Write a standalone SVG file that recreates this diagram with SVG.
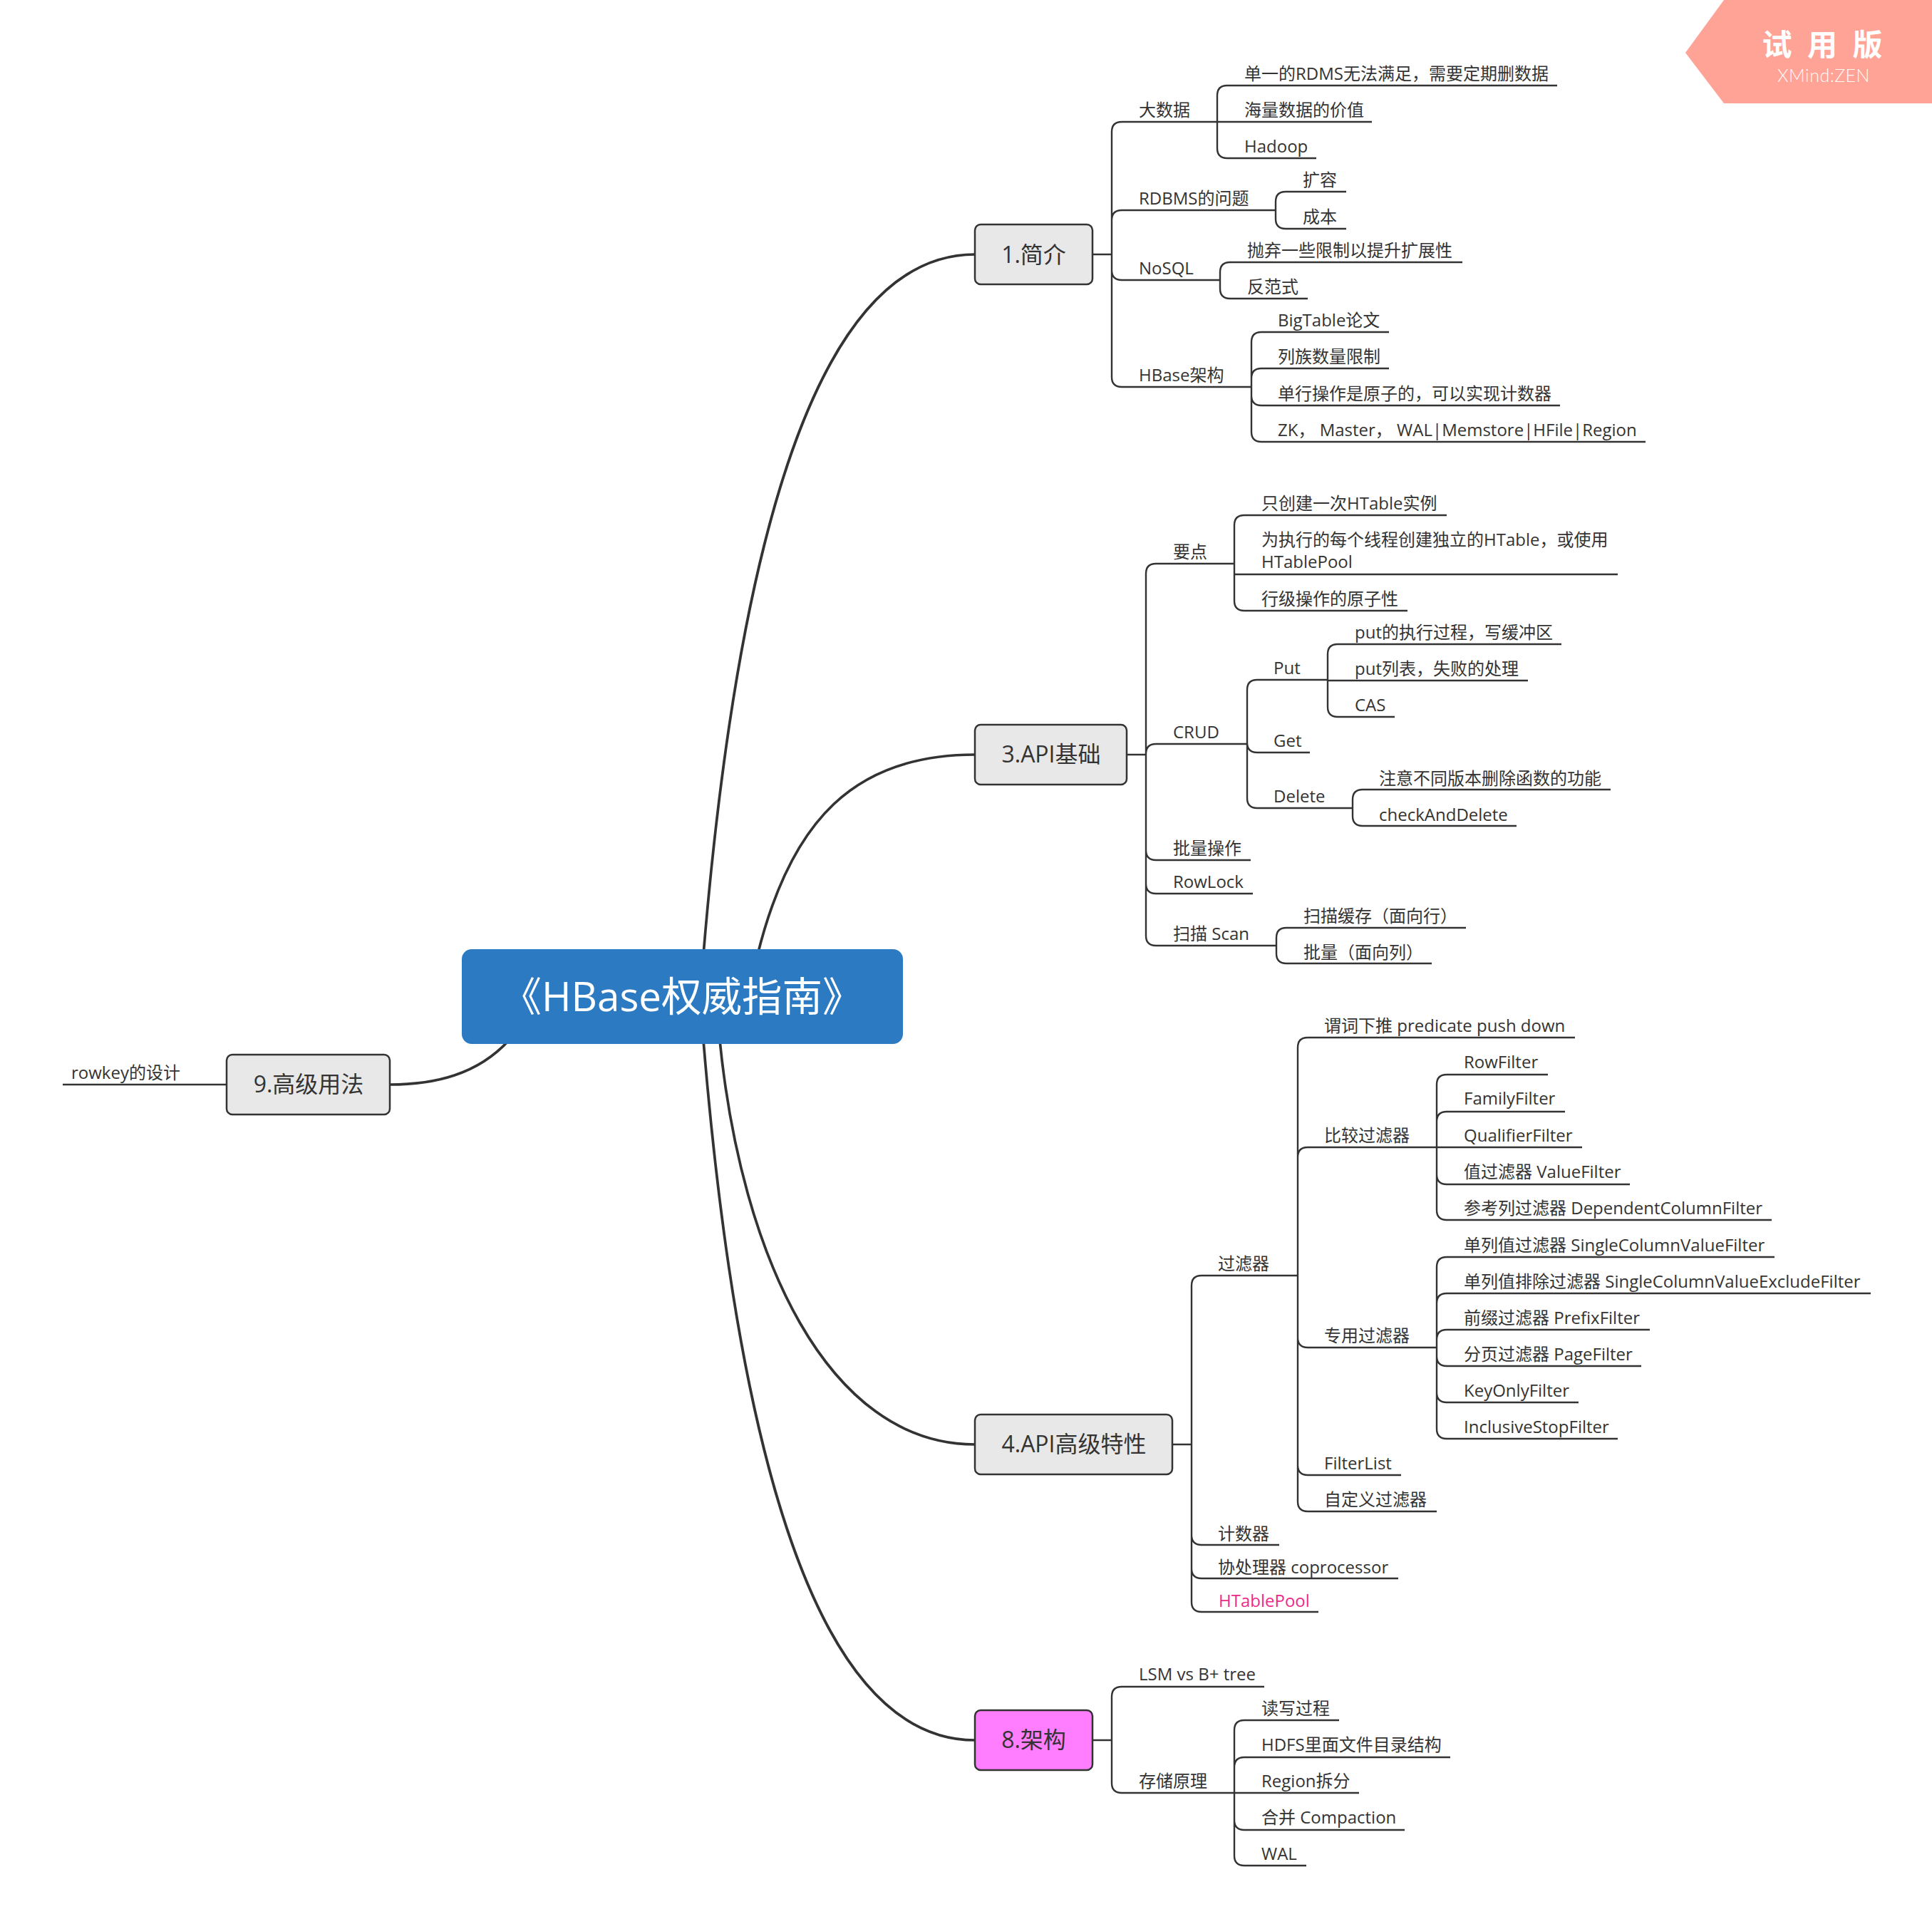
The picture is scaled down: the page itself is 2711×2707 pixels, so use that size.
<svg xmlns="http://www.w3.org/2000/svg" width="2711" height="2707" viewBox="0 0 2711 2707">
<style>
text{font-family:"Open Sans","Noto Sans CJK SC",sans-serif;fill:#333}
.t{font-size:24px}
.b{font-size:32px;text-anchor:middle}
.box{fill:#E8E8E8;stroke:#333;stroke-width:2.5}
.c{fill:none;stroke:#333;stroke-width:2.4}
.m{fill:none;stroke:#333;stroke-width:3.7}
</style>
<rect width="2711" height="2707" fill="#fff"/>
<g id="connectors">
<path class="m" d="M987 1340C1030 820 1130 357 1368 357"/>
<path class="m" d="M1063 1340C1110 1150 1200 1059 1368 1059"/>
<path class="m" d="M1010 1460C1040 1760 1160 2027 1368 2027"/>
<path class="m" d="M987 1460C1030 1980 1130 2442 1368 2442"/>
<path class="m" d="M714 1460C670 1508 610 1522 547 1522"/>
<path class="c" d="M318 1522H88"/>
<path class="c" d="M1534 357H1560M1708 171H1574Q1560 171 1560 185V529Q1560 543 1574 543H1756M1560 309Q1560 295 1574 295H1790M1560 379Q1560 393 1574 393H1712"/>
<path class="c" d="M2185 120H1722Q1708 120 1708 134V208Q1708 222 1722 222H1847M1708 171H1925"/>
<path class="c" d="M1889 269H1804Q1790 269 1790 283V307Q1790 321 1804 321H1889"/>
<path class="c" d="M2052 368H1726Q1712 368 1712 382V405Q1712 419 1726 419H1835"/>
<path class="c" d="M1949 466H1770Q1756 466 1756 480V606Q1756 620 1770 620H2309M1756 531Q1756 517 1770 517H1949M1756 555Q1756 569 1770 569H2189"/>
<path class="c" d="M1582 1059H1608M1732 791H1622Q1608 791 1608 805V1313Q1608 1327 1622 1327H1791M1608 1058Q1608 1044 1622 1044H1750M1608 1193Q1608 1207 1622 1207H1755M1608 1240Q1608 1254 1622 1254H1758"/>
<path class="c" d="M2030 723H1746Q1732 723 1732 737V843Q1732 857 1746 857H1975M1732 806H2270"/>
<path class="c" d="M1863 954H1764Q1750 954 1750 968V1120Q1750 1134 1764 1134H1898M1750 1042Q1750 1056 1764 1056H1838"/>
<path class="c" d="M2191 904H1877Q1863 904 1863 918V992Q1863 1006 1877 1006H1957M1863 955H2144"/>
<path class="c" d="M2260 1108H1912Q1898 1108 1898 1122V1145Q1898 1159 1912 1159H2128"/>
<path class="c" d="M2057 1302H1805Q1791 1302 1791 1316V1338Q1791 1352 1805 1352H2009"/>
<path class="c" d="M1646 2027H1672M1821 1790H1686Q1672 1790 1672 1804V2248Q1672 2262 1686 2262H1850M1672 2154Q1672 2168 1686 2168H1795M1672 2201Q1672 2215 1686 2215H1962"/>
<path class="c" d="M2210 1456H1835Q1821 1456 1821 1470V2107Q1821 2121 1835 2121H2016M1821 1624Q1821 1610 1835 1610H2016M1821 1877Q1821 1891 1835 1891H2016M1821 2056Q1821 2070 1835 2070H1966"/>
<path class="c" d="M2172 1508H2030Q2016 1508 2016 1522V1698Q2016 1712 2030 1712H2486M2016 1574Q2016 1560 2030 1560H2196M2016 1610H2220M2016 1648Q2016 1662 2030 1662H2287"/>
<path class="c" d="M2490 1764H2030Q2016 1764 2016 1778V2005Q2016 2019 2030 2019H2270M2016 1829Q2016 1815 2030 1815H2625M2016 1880Q2016 1866 2030 1866H2315M2016 1903Q2016 1917 2030 1917H2303M2016 1954Q2016 1968 2030 1968H2215"/>
<path class="c" d="M1534 2442H1560M1774 2367H1574Q1560 2367 1560 2381V2502Q1560 2516 1574 2516H1732"/>
<path class="c" d="M1879 2414H1746Q1732 2414 1732 2428V2604Q1732 2618 1746 2618H1833M1732 2480Q1732 2466 1746 2466H2035M1732 2516H1907M1732 2554Q1732 2568 1746 2568H1971"/>
</g>
<g id="root"><rect x="648" y="1332" width="619" height="133" rx="14" fill="#2C7AC2"/><text x="957" y="1419" font-size="56.5" text-anchor="middle" style="fill:#fff">《HBase权威指南》</text></g>
<g id="n1"><rect class="box" x="1368" y="315" width="165" height="84" rx="8"/><text class="b" x="1450.5" y="369">1.简介</text></g>
<g id="n3"><rect class="box" x="1368" y="1017" width="213" height="84" rx="8"/><text class="b" x="1475" y="1070">3.API基础</text></g>
<g id="n4"><rect class="box" x="1368" y="1985" width="277" height="84" rx="8"/><text class="b" x="1507" y="2038">4.API高级特性</text></g>
<g id="n8"><rect class="box" x="1368" y="2400" width="165" height="84" rx="8" style="fill:#FF7DFF"/><text class="b" x="1450.5" y="2453">8.架构</text></g>
<g id="n9"><rect class="box" x="318" y="1480" width="229" height="84" rx="8"/><text class="b" x="433" y="1533">9.高级用法</text></g>
<g id="t-rowkey"><text class="t" x="100" y="1514">rowkey的设计</text></g>
<g id="t1"><text class="t" x="1598" y="163">大数据</text></g>
<g id="t2"><text class="t" x="1746" y="112">单一的RDMS无法满足，需要定期删数据</text></g>
<g id="t3"><text class="t" x="1746" y="163">海量数据的价值</text></g>
<g id="t4"><text class="t" x="1746" y="214">Hadoop</text></g>
<g id="t5"><text class="t" x="1598" y="287">RDBMS的问题</text></g>
<g id="t6"><text class="t" x="1828" y="261">扩容</text></g>
<g id="t7"><text class="t" x="1828" y="313">成本</text></g>
<g id="t8"><text class="t" x="1598" y="385">NoSQL</text></g>
<g id="t9"><text class="t" x="1750" y="360">抛弃一些限制以提升扩展性</text></g>
<g id="t10"><text class="t" x="1750" y="411">反范式</text></g>
<g id="t11"><text class="t" x="1598" y="535">HBase架构</text></g>
<g id="t12"><text class="t" x="1793" y="458">BigTable论文</text></g>
<g id="t13"><text class="t" x="1793" y="509">列族数量限制</text></g>
<g id="t14"><text class="t" x="1793" y="561">单行操作是原子的，可以实现计数器</text></g>
<g id="t15"><text class="t" x="1793" y="612">ZK， Master， WAL|Memstore|HFile|Region</text></g>
<g id="t16"><text class="t" x="1646" y="783">要点</text></g>
<g id="t17"><text class="t" x="1770" y="715">只创建一次HTable实例</text></g>
<g id="t18"><text class="t" x="1770" y="766">为执行的每个线程创建独立的HTable，或使用</text><text class="t" x="1770" y="797">HTablePool</text></g>
<g id="t19"><text class="t" x="1770" y="849">行级操作的原子性</text></g>
<g id="t20"><text class="t" x="1646" y="1036">CRUD</text></g>
<g id="t21"><text class="t" x="1787" y="946">Put</text></g>
<g id="t22"><text class="t" x="1901" y="896">put的执行过程，写缓冲区</text></g>
<g id="t23"><text class="t" x="1901" y="947">put列表，失败的处理</text></g>
<g id="t24"><text class="t" x="1901" y="998">CAS</text></g>
<g id="t25"><text class="t" x="1787" y="1048">Get</text></g>
<g id="t26"><text class="t" x="1787" y="1126">Delete</text></g>
<g id="t27"><text class="t" x="1935" y="1101">注意不同版本删除函数的功能</text></g>
<g id="t28"><text class="t" x="1935" y="1152">checkAndDelete</text></g>
<g id="t29"><text class="t" x="1646" y="1199">批量操作</text></g>
<g id="t30"><text class="t" x="1646" y="1246">RowLock</text></g>
<g id="t31"><text class="t" x="1646" y="1319">扫描 Scan</text></g>
<g id="t32"><text class="t" x="1829" y="1294">扫描缓存（面向行）</text></g>
<g id="t33"><text class="t" x="1829" y="1345">批量（面向列）</text></g>
<g id="t34"><text class="t" x="1709" y="1782">过滤器</text></g>
<g id="t35"><text class="t" x="1858" y="1448">谓词下推 predicate push down</text></g>
<g id="t36"><text class="t" x="1858" y="1602">比较过滤器</text></g>
<g id="t37"><text class="t" x="2054" y="1499">RowFilter</text></g>
<g id="t38"><text class="t" x="2054" y="1550">FamilyFilter</text></g>
<g id="t39"><text class="t" x="2054" y="1602">QualifierFilter</text></g>
<g id="t40"><text class="t" x="2054" y="1653">值过滤器 ValueFilter</text></g>
<g id="t41"><text class="t" x="2054" y="1704">参考列过滤器 DependentColumnFilter</text></g>
<g id="t42"><text class="t" x="1858" y="1883">专用过滤器</text></g>
<g id="t43"><text class="t" x="2054" y="1756">单列值过滤器 SingleColumnValueFilter</text></g>
<g id="t44"><text class="t" x="2054" y="1807">单列值排除过滤器 SingleColumnValueExcludeFilter</text></g>
<g id="t45"><text class="t" x="2054" y="1858">前缀过滤器 PrefixFilter</text></g>
<g id="t46"><text class="t" x="2054" y="1909">分页过滤器 PageFilter</text></g>
<g id="t47"><text class="t" x="2054" y="1960">KeyOnlyFilter</text></g>
<g id="t48"><text class="t" x="2054" y="2011">InclusiveStopFilter</text></g>
<g id="t49"><text class="t" x="1858" y="2062">FilterList</text></g>
<g id="t50"><text class="t" x="1858" y="2113">自定义过滤器</text></g>
<g id="t51"><text class="t" x="1709" y="2161">计数器</text></g>
<g id="t52"><text class="t" x="1709" y="2208">协处理器 coprocessor</text></g>
<g id="t53"><text class="t" x="1710" y="2255" style="fill:#EE2A8B">HTablePool</text></g>
<g id="t54"><text class="t" x="1598" y="2358">LSM vs B+ tree</text></g>
<g id="t55"><text class="t" x="1598" y="2508">存储原理</text></g>
<g id="t56"><text class="t" x="1770" y="2406">读写过程</text></g>
<g id="t57"><text class="t" x="1770" y="2457">HDFS里面文件目录结构</text></g>
<g id="t58"><text class="t" x="1770" y="2508">Region拆分</text></g>
<g id="t59"><text class="t" x="1770" y="2559">合并 Compaction</text></g>
<g id="t60"><text class="t" x="1770" y="2610">WAL</text></g>
<g id="watermark"><polygon points="2419,0 2711,0 2711,145 2419,145 2365,74" fill="#FFA396"/><text x="2557" y="78" font-size="42" font-weight="700" text-anchor="middle" word-spacing="10.5" style="fill:#fff">试 用 版</text><text x="2559" y="115" font-size="25" text-anchor="middle" style="fill:#fff;font-family:Lato,'Open Sans',sans-serif;font-weight:300" letter-spacing=".5" opacity=".95">XMind:ZEN</text></g>
</svg>
